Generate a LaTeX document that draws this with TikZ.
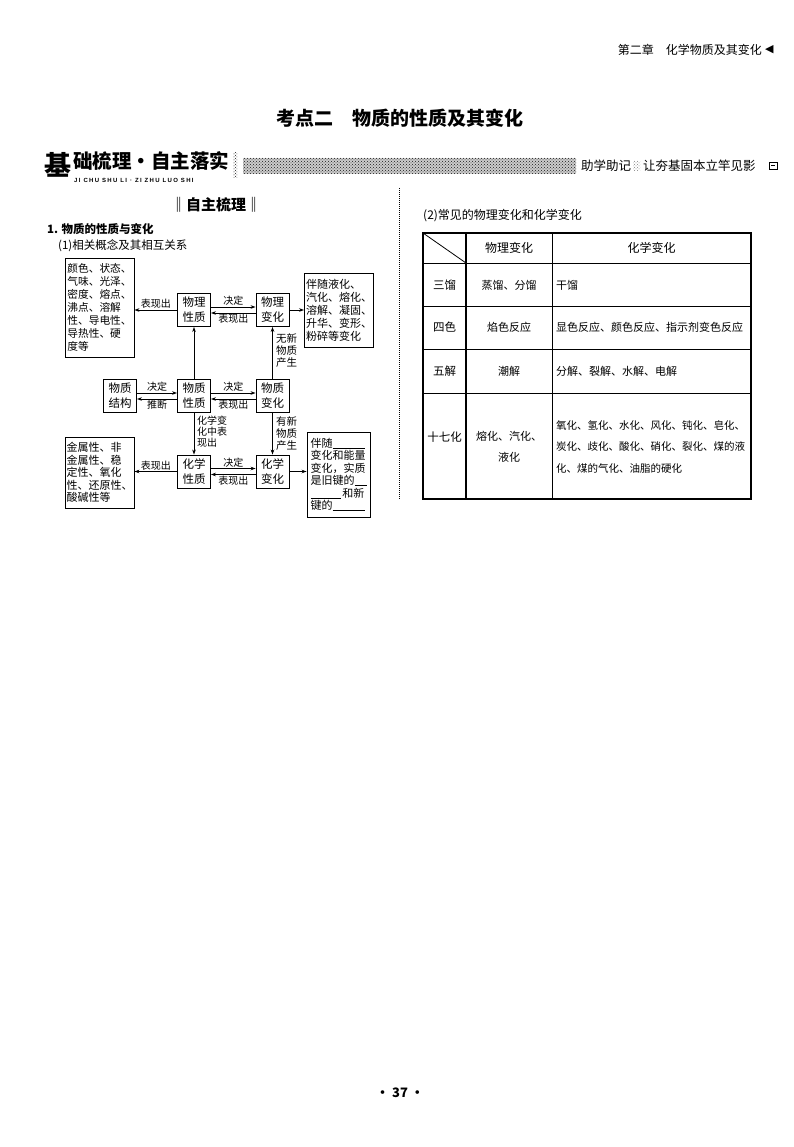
\documentclass[tikz,border=0pt]{standalone}
\usepackage{fontspec}
\setmainfont{Noto Sans CJK SC}
\newfontfamily\dejavu{DejaVu Sans}
\newfontfamily\pyfont[LetterSpace=22]{Liberation Sans}
\usetikzlibrary{arrows.meta,patterns}
\tikzset{
  bx/.style={draw, line width=0.9pt, inner sep=1.5pt, align=left},
  sb/.style={draw, line width=0.9pt, minimum width=33pt, minimum height=33pt, inner sep=0pt, align=center, font=\fontsize{11.5}{15}\selectfont},
  arr/.style={line width=0.8pt, -{Stealth[length=5pt,width=3.6pt]}},
  lab/.style={font=\fontsize{10}{11}\selectfont, inner sep=1pt},
  vlab/.style={font=\fontsize{10.5}{12}\selectfont, anchor=north west, align=left, inner sep=0pt},
  tline/.style={line width=0.9pt},
  tt/.style={font=\fontsize{11.5}{13}\selectfont, inner sep=0pt},
  halftone/.style={pattern=crosshatch dots, pattern color=black!90},
}
\begin{document}
\begin{tikzpicture}[x=1pt,y=-1pt]
\useasboundingbox (0,0) rectangle (794,1147);
\fill[white] (0,0) rectangle (794,1147);

% page header
\node[anchor=east, font=\fontsize{12}{14}\selectfont, inner sep=0pt] (hdr) at (762,50) {第二章\hspace{1em}化学物质及其变化};
\node[anchor=west, font=\dejavu\fontsize{11}{12}\selectfont, inner sep=0pt] (hdrarrow) at (765,50) {◀};

% title
\node[font=\fontsize{19}{22}\selectfont\bfseries, inner sep=0pt] (title) at (400,118) {考点二\hspace{1em}物质的性质及其变化};

% banner
\node[font=\fontsize{27}{30}\selectfont\bfseries, inner sep=0pt, anchor=west] (ji) at (44,165) {基};
\node[font=\fontsize{19.5}{21}\selectfont\bfseries, inner sep=0pt, anchor=west] (banner) at (73,161) {础梳理·自主落实};
\node[font=\pyfont\bfseries\fontsize{6}{7}\selectfont, inner sep=0pt, anchor=west] (pinyin) at (74,180) {JI CHU SHU LI · ZI ZHU LUO SHI};
\path[halftone] (233,153) rectangle (237,178);
\fill[black!20] (243,158) rectangle (576,174);
\path[halftone] (243,158) rectangle (576,174);
\node[font=\fontsize{12.5}{14}\selectfont, inner sep=0pt, anchor=west] (zx1) at (581,166) {助学助记};
\path[pattern=crosshatch dots, pattern color=black!50] (633,161) rectangle (640,171);
\node[font=\fontsize{12.5}{14}\selectfont, inner sep=0pt, anchor=west] (zx2) at (643,166) {让夯基固本立竿见影};
\draw[line width=0.8pt] (769,162) rectangle (777,169);
\draw[line width=0.6pt] (771,165.5) -- (775,165.5);

% left column headings
\node[font=\fontsize{15}{17}\selectfont\bfseries, inner sep=0pt] (zzsl) at (216,205) {‖自主梳理‖};
\node[font=\fontsize{11.5}{13}\selectfont\bfseries, inner sep=0pt, anchor=west] (h1) at (47,229) {1. 物质的性质与变化};
\node[font=\fontsize{11.5}{13}\selectfont, inner sep=0pt, anchor=west] (h11) at (58,246) {(1)相关概念及其相互关系};

% separator
\draw[line width=1pt, dash pattern=on 1pt off 1pt] (399,188) -- (399,500);

% diagram nodes
\node[sb] (wlxz) at (194,310) {物理\\性质};
\node[sb] (wlbh) at (272.5,310) {物理\\变化};
\node[sb] (wzjg) at (120,396) {物质\\结构};
\node[sb] (wzxz) at (194,396) {物质\\性质};
\node[sb] (wzbh) at (272.5,396) {物质\\变化};
\node[sb] (hxxz) at (194,471.5) {化学\\性质};
\node[sb] (hxbh) at (272.5,471.5) {化学\\变化};

\node[bx, minimum width=69pt, minimum height=99pt, font=\fontsize{10.7}{13}\selectfont] (lt) at (99.5,307.5)
  {颜色、状态、\\气味、光泽、\\密度、熔点、\\沸点、溶解\\性、导电性、\\导热性、硬\\度等};
\node[bx, minimum width=68pt, minimum height=74pt, font=\fontsize{11}{13}\selectfont] (rt) at (339,310)
  {伴随液化、\\汽化、熔化、\\溶解、凝固、\\升华、变形、\\粉碎等变化};
\node[bx, minimum width=69pt, minimum height=71pt, font=\fontsize{11}{12.5}\selectfont] (lb) at (99.5,472.5)
  {金属性、非\\金属性、稳\\定性、氧化\\性、还原性、\\酸碱性等};
\node[bx, minimum width=63pt, minimum height=85pt, font=\fontsize{11}{12.5}\selectfont] (rb) at (338.5,474.5)
  {伴随\rule[-1pt]{32pt}{0.5pt}\\变化和能量\\变化，实质\\是旧键的\rule[-1pt]{12pt}{0.5pt}\\\rule[-1pt]{30pt}{0.5pt}\,和新\\键的\rule[-1pt]{32pt}{0.5pt}};

% top row connectors
\draw[arr] (wlxz.west) -- (wlxz.west -| lt.east) node[lab, midway, above] (a1) {表现出};
\draw[arr] ([yshift=3pt]wlxz.east) -- ([yshift=3pt]wlbh.west) node[lab, midway, above] (a2) {决定};
\draw[arr] ([yshift=-3pt]wlbh.west) -- ([yshift=-3pt]wlxz.east) node[lab, midway, below] (a3) {表现出};
\draw[arr] (wlbh.east) -- (wlbh.east -| rt.west);
\draw[arr] (wzxz.north) -- (wlxz.south);
\draw[arr] (wzbh.north) -- (wlbh.south);
\node[vlab] (a4) at (276,333) {无新\\物质\\产生};

% middle row connectors
\draw[arr] ([yshift=3pt]wzjg.east) -- ([yshift=3pt]wzxz.west) node[lab, midway, above] (b1) {决定};
\draw[arr] ([yshift=-3pt]wzxz.west) -- ([yshift=-3pt]wzjg.east) node[lab, midway, below] (b2) {推断};
\draw[arr] ([yshift=3pt]wzxz.east) -- ([yshift=3pt]wzbh.west) node[lab, midway, above] (b3) {决定};
\draw[arr] ([yshift=-3pt]wzbh.west) -- ([yshift=-3pt]wzxz.east) node[lab, midway, below] (b4) {表现出};
\draw[arr] (wzxz.south) -- (hxxz.north);
\node[vlab, font=\fontsize{10}{11}\selectfont] (b5) at (197,416) {化学变\\化中表\\现出};
\draw[arr] (wzbh.south) -- (hxbh.north);
\node[vlab] (b6) at (276,416) {有新\\物质\\产生};

% bottom row connectors
\draw[arr] (hxxz.west) -- (hxxz.west -| lb.east) node[lab, midway, above] (c1) {表现出};
\draw[arr] ([yshift=3pt]hxxz.east) -- ([yshift=3pt]hxbh.west) node[lab, midway, above] (c2) {决定};
\draw[arr] ([yshift=-3pt]hxbh.west) -- ([yshift=-3pt]hxxz.east) node[lab, midway, below] (c3) {表现出};
\draw[arr] (hxbh.east) -- (hxbh.east -| rb.west);

% right column
\node[font=\fontsize{12}{14}\selectfont, inner sep=0pt, anchor=west] (h2) at (423,216) {(2)常见的物理变化和化学变化};

% table
\draw[line width=1.3pt] (423,233) rectangle (751,499);
\foreach \yy in {263,306,349,393} \draw[tline] (423,\yy) -- (751,\yy);
\draw[line width=1.6pt] (466,233) -- (466,499);
\draw[tline] (552,233) -- (552,499);
\draw[line width=0.8pt] (423,233) -- (466,263);

\node[tt, font=\fontsize{12}{14}\selectfont] (th1) at (509,248) {物理变化};
\node[tt, font=\fontsize{12}{14}\selectfont] (th2) at (651.5,248) {化学变化};

\node[tt] (r1a) at (444.5,285) {三馏};
\node[tt, font=\fontsize{11}{13}\selectfont] (r1b) at (509,285) {蒸馏、分馏};
\node[tt, anchor=west, font=\fontsize{11}{13}\selectfont] (r1c) at (556,285) {干馏};

\node[tt] (r2a) at (444.5,327) {四色};
\node[tt, font=\fontsize{11}{13}\selectfont] (r2b) at (509,327) {焰色反应};
\node[tt, anchor=west, font=\fontsize{11}{13}\selectfont] (r2c) at (556,327) {显色反应、颜色反应、指示剂变色反应};

\node[tt] (r3a) at (444.5,371) {五解};
\node[tt, font=\fontsize{11}{13}\selectfont] (r3b) at (509,371) {潮解};
\node[tt, anchor=west, font=\fontsize{11}{13}\selectfont] (r3c) at (556,371) {分解、裂解、水解、电解};

\node[tt] (r4a) at (444.5,437) {十七化};
\node[tt, align=center, font=\fontsize{11}{21}\selectfont] (r4b) at (509,447) {熔化、汽化、\\液化};
\node[tt, anchor=west, align=left, font=\fontsize{10.5}{21.5}\selectfont] (r4c) at (556,446.5)
  {氧化、氢化、水化、风化、钝化、皂化、\\炭化、歧化、酸化、硝化、裂化、煤的液\\化、煤的气化、油脂的硬化};

% page number
\node[font=\fontsize{13}{15}\selectfont\bfseries, inner sep=0pt] (pg) at (400,1093) {• 37 •};
\end{tikzpicture}
\end{document}
